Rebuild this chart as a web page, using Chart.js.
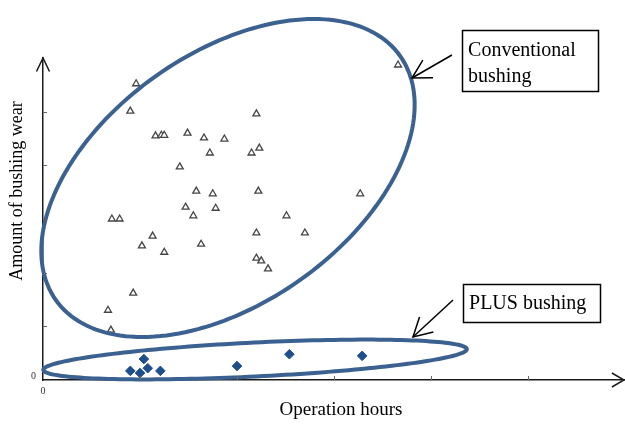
<!DOCTYPE html>
<html><head><meta charset="utf-8">
<style>html,body{margin:0;padding:0;background:#fff}#wrap{width:625px;height:424px;position:relative}</style>
<script src="https://cdn.jsdelivr.net/npm/chart.js@4.4.1/dist/chart.umd.min.js"></script>
</head><body><div id="wrap"><canvas id="c" width="625" height="424"></canvas></div>
<script>
// ---- data ----
const convX = [3.66,0.96,0.90,2.20,1.16,1.22,1.25,1.49,1.66,1.87,1.72,2.15,2.23,1.41,1.58,1.75,2.22,1.47,1.55,1.78,2.51,3.27,0.71,0.79,2.20,2.70,1.13,1.02,1.63,1.25,2.20,2.25,2.32,0.93,0.67,0.70];
const convY = [5.87,5.52,5.01,4.96,4.55,4.56,4.56,4.60,4.51,4.49,4.23,4.23,4.32,3.97,3.52,3.47,3.52,3.22,3.06,3.20,3.06,3.47,3.00,3.00,2.74,2.74,2.68,2.50,2.53,2.38,2.27,2.22,2.07,1.62,1.30,0.93];
const plusX = [0.90,1.00,1.04,1.08,1.21,2.00,2.54,3.29];
const plusY = [0.17,0.13,0.39,0.22,0.17,0.26,0.48,0.45];
const xTicks = [0,1,2,3,4,5,6];
const yTicks = [0,1,2,3,4,5,6];
const xTitle = 'Operation hours';
const yTitle = 'Amount of bushing wear';
const labelConv = ['Conventional','bushing'];
const labelPlus = ['PLUS bushing'];

// ---- annotation geometry (in data units) ----
const ellipses = [
  {c:[1.907,3.764], u:[1.775,2.273], v:[0.744,-1.900]},
  {c:[2.186,0.382], u:[2.183,0.194], v:[0.0086,-0.316]}
];
const callouts = [
  {lines: labelConv, box:[4.320,6.521], w:136, h:61, tail:[4.216,6.056], tip:[3.804,5.627]},
  {lines: labelPlus, box:[4.330,1.789], w:137, h:38, tail:[4.227,1.491], tip:[3.814,0.801]}
];

const SERIF = '"Liberation Serif","Times New Roman",serif';

function arrowHead(ctx, tx, ty, fx, fy, len, ang) {
  const a = Math.atan2(fy - ty, fx - tx);
  ctx.beginPath();
  ctx.moveTo(tx + len*Math.cos(a+ang), ty + len*Math.sin(a+ang));
  ctx.lineTo(tx, ty);
  ctx.lineTo(tx + len*Math.cos(a-ang), ty + len*Math.sin(a-ang));
  ctx.stroke();
}

const deco = {
  id: 'deco',
  afterDatasetsDraw(chart) {
    const {ctx, scales:{x, y}} = chart;
    ctx.save();
    ctx.strokeStyle = '#3b6190';
    ctx.lineWidth = 4;
    ellipses.forEach(e => {
      ctx.beginPath();
      const N = 180;
      for (let i = 0; i <= N; i++) {
        const t = i / N * Math.PI * 2;
        const dx = e.c[0] + e.u[0]*Math.cos(t) + e.v[0]*Math.sin(t);
        const dy = e.c[1] + e.u[1]*Math.cos(t) + e.v[1]*Math.sin(t);
        const px = x.getPixelForValue(dx), py = y.getPixelForValue(dy);
        if (i === 0) ctx.moveTo(px, py); else ctx.lineTo(px, py);
      }
      ctx.closePath();
      ctx.stroke();
    });
    ctx.restore();
  },
  afterDraw(chart) {
    const {ctx, scales:{x, y}} = chart;
    ctx.save();
    // inward tick marks
    ctx.strokeStyle = '#666';
    ctx.lineWidth = 1;
    const x0 = x.getPixelForValue(0), y0 = y.getPixelForValue(0);
    xTicks.forEach(v => {
      if (v <= 0 || v >= 6) return;
      const px = Math.round(x.getPixelForValue(v)) + 0.5;
      ctx.beginPath(); ctx.moveTo(px, y0); ctx.lineTo(px, y0 - 4); ctx.stroke();
    });
    yTicks.forEach(v => {
      if (v <= 0 || v >= 6) return;
      const py = Math.round(y.getPixelForValue(v)) + 0.5;
      ctx.beginPath(); ctx.moveTo(x0, py); ctx.lineTo(x0 + 4, py); ctx.stroke();
    });
    // axis arrow heads
    ctx.strokeStyle = '#1a1a1a';
    ctx.lineWidth = 1.5;
    arrowHead(ctx, x.right - 1, y0, x0, y0, 14, Math.PI/6);
    arrowHead(ctx, x0, y.top, x0, y0, 15, Math.PI/7);
    // axis titles
    ctx.fillStyle = '#000';
    ctx.textAlign = 'center';
    ctx.textBaseline = 'middle';
    ctx.font = '19px ' + SERIF;
    ctx.fillText(xTitle, 341, 410);
    ctx.save();
    ctx.translate(17, 191);
    ctx.rotate(-Math.PI/2);
    ctx.font = '18px ' + SERIF;
    ctx.fillText(yTitle, 0, 0);
    ctx.restore();
    // callouts
    callouts.forEach(c => {
      const bx = x.getPixelForValue(c.box[0]), by = y.getPixelForValue(c.box[1]);
      ctx.strokeStyle = '#000';
      ctx.lineWidth = 1.5;
      ctx.strokeRect(Math.round(bx)+0.5, Math.round(by)+0.5, c.w, c.h);
      ctx.font = '20px ' + SERIF;
      ctx.textAlign = 'left';
      ctx.textBaseline = 'alphabetic';
      ctx.fillStyle = '#000';
      const lh = 26;
      const first = c.lines.length > 1 ? by + 26 : by + 25;
      c.lines.forEach((t, i) => ctx.fillText(t, bx + 6, first + i*lh));
      const tx = x.getPixelForValue(c.tip[0]), ty = y.getPixelForValue(c.tip[1]);
      const fx = x.getPixelForValue(c.tail[0]), fy = y.getPixelForValue(c.tail[1]);
      ctx.lineWidth = 1.5;
      ctx.beginPath(); ctx.moveTo(fx, fy); ctx.lineTo(tx, ty); ctx.stroke();
      arrowHead(ctx, tx, ty, fx, fy, 21, Math.PI*29/180);
    });
    ctx.restore();
  }
};

new Chart(document.getElementById('c'), {
  type: 'scatter',
  data: {
    datasets: [
      {
        label: 'Conventional bushing',
        data: convX.map((v, i) => ({x: v, y: convY[i]})),
        pointStyle: 'triangle',
        pointRadius: 4,
        backgroundColor: '#ffffff',
        borderColor: '#444444',
        borderWidth: 1.3
      },
      {
        label: 'PLUS bushing',
        data: plusX.map((v, i) => ({x: v, y: plusY[i]})),
        pointStyle: 'rectRot',
        pointRadius: 4.8,
        backgroundColor: '#1f4e8c',
        borderColor: '#1f4e8c',
        borderWidth: 1
      }
    ]
  },
  options: {
    responsive: false,
    devicePixelRatio: 1,
    animation: false,
    layout: {autoPadding: false, padding: {left: 0, right: 0, top: 58, bottom: 0}},
    plugins: {legend: {display: false}, tooltip: {enabled: false}},
    scales: {
      x: {
        type: 'linear', min: 0, max: 6,
        afterFit: s => { s.height = 44; s.paddingRight = 0; },
        grid: {display: true, drawOnChartArea: false, drawTicks: true, tickLength: 5, tickColor: 'rgba(0,0,0,0)'},
        border: {display: true, color: '#1a1a1a', width: 1.5},
        ticks: {stepSize: 1, padding: 0, color: '#333', font: {family: SERIF, size: 10},
                autoSkip: false, maxRotation: 0,
                callback: v => v === 0 ? '0' : ''}
      },
      y: {
        type: 'linear', min: 0, max: 6,
        afterFit: s => { s.width = 43; },
        grid: {display: true, drawOnChartArea: false, drawTicks: false},
        border: {display: true, color: '#1a1a1a', width: 1.5},
        ticks: {stepSize: 1, padding: 7, color: '#333', font: {family: SERIF, size: 10},
                autoSkip: false, labelOffset: -4,
                callback: v => v === 0 ? '0' : ''}
      }
    }
  },
  plugins: [deco]
});
</script>
</body></html>
